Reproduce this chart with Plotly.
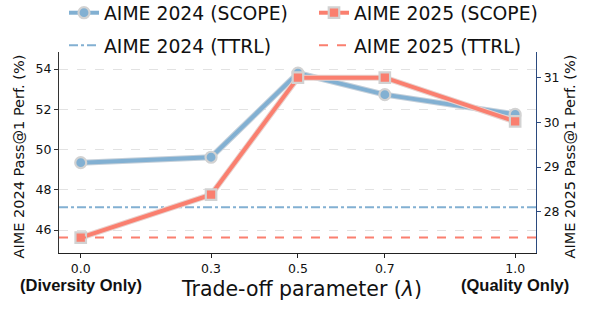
import plotly.graph_objects as go

lambdas = [0.0, 0.3, 0.5, 0.7, 1.0]
tick_labels = ["0.0", "0.3", "0.5", "0.7", "1.0"]
aime24_scope = [49.35, 49.62, 53.8, 52.73, 51.75]
aime25_scope = [27.42, 28.38, 31.0, 31.0, 30.02]
aime24_ttrl = 47.14
aime25_ttrl = 27.42

BLUE = "#82B0D2"
RED = "#FA7F6F"
EDGE = "#d2d2d2"
FONT = "DejaVu Sans"

W, H = 589, 309
ML, MR, MT, MB = 59, 53, 52, 56
PW = W - ML - MR
PH = H - MT - MB

fig = go.Figure()

# outlines (path-effect look)
fig.add_trace(go.Scatter(x=lambdas, y=aime24_scope, mode="lines",
                         line=dict(color="#c5d0da", width=6), showlegend=False, hoverinfo="skip"))
fig.add_trace(go.Scatter(x=lambdas, y=aime24_scope, mode="lines+markers", name="AIME 2024 (SCOPE)",
                         line=dict(color=BLUE, width=4),
                         marker=dict(symbol="circle", size=11, color=BLUE, line=dict(color=EDGE, width=2.2)),
                         legend="legend", legendgroup="a"))
fig.add_trace(go.Scatter(x=[-0.05, 1.048], y=[aime24_ttrl, aime24_ttrl], mode="lines", name="AIME 2024 (TTRL)",
                         line=dict(color=BLUE, width=2, dash="dashdot"), legend="legend", legendgroup="b"))

fig.add_trace(go.Scatter(x=lambdas, y=aime25_scope, mode="lines", yaxis="y2",
                         line=dict(color="#e8d2ce", width=6), showlegend=False, hoverinfo="skip"))
fig.add_trace(go.Scatter(x=lambdas, y=aime25_scope, mode="lines+markers", name="AIME 2025 (SCOPE)", yaxis="y2",
                         line=dict(color=RED, width=4),
                         marker=dict(symbol="square", size=10.5, color=RED, line=dict(color=EDGE, width=2.2)),
                         legend="legend2", legendgroup="c"))
fig.add_trace(go.Scatter(x=[-0.05, 1.048], y=[aime25_ttrl, aime25_ttrl], mode="lines", name="AIME 2025 (TTRL)",
                         yaxis="y2", line=dict(color=RED, width=2, dash="dash"), legend="legend2", legendgroup="d"))

leg_top = (H - MB + 6) / PH  # legend top a few px above the page top edge (paper coords)
leg_common = dict(orientation="v", xref="container", yref="paper", xanchor="left", yanchor="top",
                  y=leg_top, font=dict(size=18.8, family=FONT), bgcolor="rgba(0,0,0,0)",
                  tracegroupgap=5, itemwidth=30)

fig.update_layout(
    width=W, height=H,
    margin=dict(l=ML, r=MR, t=MT, b=MB, autoexpand=False),
    plot_bgcolor="white", paper_bgcolor="white",
    font=dict(family=FONT, size=13, color="#111"),
    xaxis=dict(range=[-0.05, 1.048], tickvals=lambdas, ticktext=tick_labels,
               showline=True, linecolor="#222", linewidth=1.3, ticks="outside", ticklen=4,
               tickcolor="#222", showgrid=False, zeroline=False, tickfont=dict(size=12.5, family=FONT)),
    yaxis=dict(range=[44.86, 54.85], tickvals=[46, 48, 50, 52, 54],
               showline=True, linecolor="#333", linewidth=1.3, ticks="outside", ticklen=4,
               tickcolor="#333", showgrid=True, gridcolor="#e2e2e2", griddash="dash", gridwidth=1,
               zeroline=False, tickfont=dict(size=12.5, family=FONT)),
    yaxis2=dict(range=[27.075, 31.575], tickvals=[28, 29, 30, 31], overlaying="y", side="right",
                showline=True, linecolor="#2b4a7e", linewidth=1.3, ticks="outside", ticklen=4,
                tickcolor="#2b4a7e", showgrid=False, zeroline=False, tickfont=dict(size=12.5, family=FONT)),
    legend=dict(x=64 / W, **leg_common),
    legend2=dict(x=314 / W, **leg_common),
    showlegend=True,
)

def px_x(p):
    return (p - ML) / PW

annotations = [
    dict(text="(Diversity Only)", x=0.0, y=-0.16, xref="x", yref="paper", showarrow=False,
         font=dict(family="Liberation Sans", size=16.5, color="#111", weight="bold"), yanchor="middle"),
    dict(text="(Quality Only)", x=1.0, y=-0.16, xref="x", yref="paper", showarrow=False,
         font=dict(family="Liberation Sans", size=16.5, color="#111", weight="bold"), yanchor="middle"),
    dict(text="Trade-off parameter (<i>λ</i>)", x=px_x(301), y=-0.18, xref="paper", yref="paper", showarrow=False,
         font=dict(family=FONT, size=20.5, color="#111"), yanchor="middle"),
    dict(text="AIME 2024 Pass@1 Perf. (%)", x=px_x(19), y=0.48, xref="paper", yref="paper", showarrow=False,
         textangle=-90, font=dict(family=FONT, size=14.5, color="#111"), xanchor="center", yanchor="middle"),
    dict(text="AIME 2025 Pass@1 Perf. (%)", x=px_x(570), y=0.48, xref="paper", yref="paper", showarrow=False,
         textangle=-90, font=dict(family=FONT, size=14.5, color="#111"), xanchor="center", yanchor="middle"),
]
fig.update_layout(annotations=annotations)

fig.write_html("out.html", config={"displayModeBar": False},
               post_script="document.body.style.margin='0';document.body.style.overflow='hidden';")
